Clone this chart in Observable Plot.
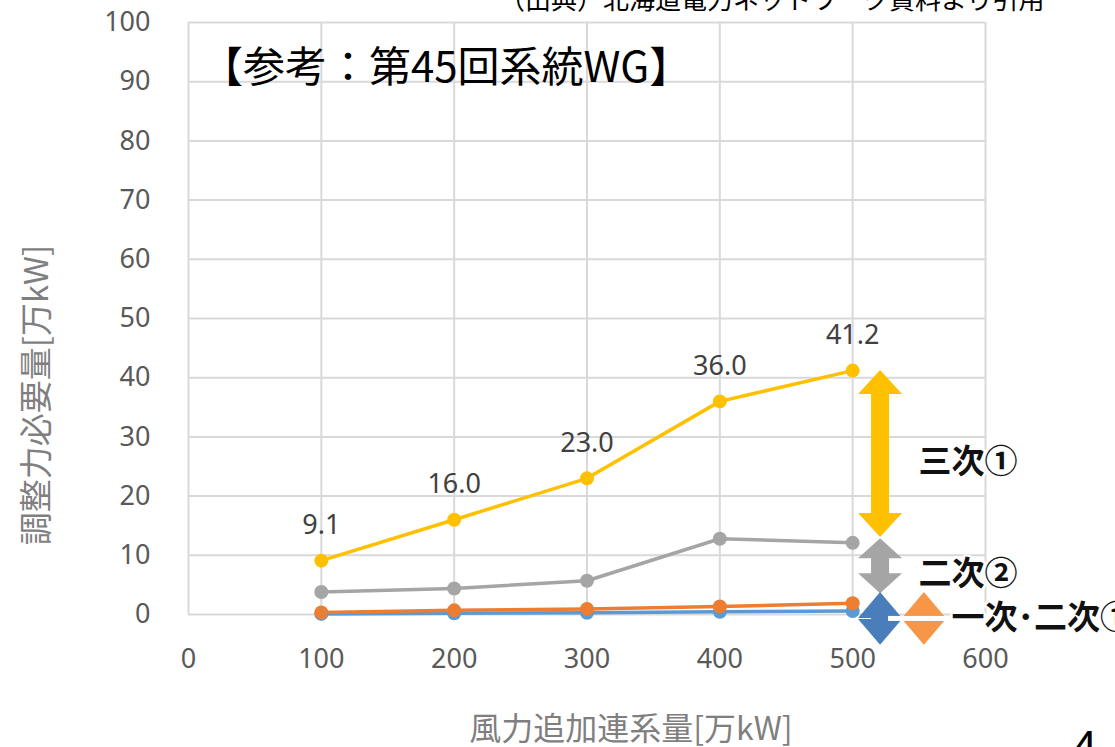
<!DOCTYPE html>
<html>
<head>
<meta charset="utf-8">
<script src="https://cdn.jsdelivr.net/npm/d3@7"></script>
<script src="https://cdn.jsdelivr.net/npm/@observablehq/plot@0.6"></script>
<style>
  html, body { margin: 0; padding: 0; background: #fff; }
  #chart svg { display: block; overflow: visible; }
</style>
</head>
<body>
<div id="chart"></div>
<script>
// ---- data ----
const windCapacity = [100, 200, 300, 400, 500];          // 風力追加連系量[万kW]
const tertiary1   = [9.1, 16.0, 23.0, 36.0, 41.2];       // 三次① (yellow)
const secondary2  = [3.8, 4.4, 5.7, 12.8, 12.1];         // 二次② (gray)
const secondary1  = [0.35, 0.7, 0.95, 1.35, 1.9];        // 二次① (orange)
const primary     = [0.1, 0.2, 0.3, 0.45, 0.6];          // 一次 (blue)
const xTicks = [0, 100, 200, 300, 400, 500, 600];
const yTicks = [0, 10, 20, 30, 40, 50, 60, 70, 80, 90, 100];

const seriesNames  = ["一次", "二次①", "二次②", "三次①"];
const seriesColors = ["#5B9BD5", "#ED7D31", "#A5A5A5", "#FFC000"];
const seriesValues = [primary, secondary1, secondary2, tertiary1];

// annotation arrows (range of each component at x = arrowX)
const arrowLabels = ["三次①", "二次②", "一次･二次①"];
const arrowFrom   = [41.2, 12.8, 3.7];
const arrowTo     = [13.0, 3.5, -5.2];
const arrowX      = [521, 521, 521];
const arrowColors = ["#FFC000", "#A5A5A5", "#4A7EBB"];
const extraArrowX = 554;           // second diamond (orange) for 一次･二次①
const extraArrowColor = "#F79646";

const titleText  = "【参考：第45回系統WG】";
const sourceText = "（出典）北海道電力ネットワーク資料より引用";
const xLabel = "風力追加連系量[万kW]";
const yLabel = "調整力必要量[万kW]";
const pageNo = "4";

// ---- tables ----
const rows = seriesNames.flatMap((name, i) =>
  windCapacity.map((x, j) => ({series: name, x, value: seriesValues[i][j], color: seriesColors[i]})));
const arrows = arrowLabels.map((label, i) => ({label, x: arrowX[i], from: arrowFrom[i], to: arrowTo[i], color: arrowColors[i]}));
const arrowShapes = [...arrows, {label: "", x: extraArrowX, from: arrowFrom[2], to: arrowTo[2], color: extraArrowColor}];

const JP = "'Noto Sans CJK JP', 'Noto Sans', sans-serif";

function arrowMark(index, scales) {
  const g = d3.create("svg:g");
  const hw = 22, sw = 9;
  const headLens = [24, 20, 26, 26];
  const a3 = arrows[2];
  const yc = (scales.y(a3.from) + scales.y(a3.to)) / 2;
  arrowShapes.forEach((a, i) => {
    const cx = scales.x(a.x), y1 = scales.y(a.from), y2 = scales.y(a.to);
    const hl = Math.min(headLens[i], (y2 - y1) / 2 - 0.5);
    const pts = [[cx, y1], [cx + hw, y1 + hl], [cx + sw, y1 + hl], [cx + sw, y2 - hl], [cx + hw, y2 - hl],
                 [cx, y2], [cx - hw, y2 - hl], [cx - sw, y2 - hl], [cx - sw, y1 + hl], [cx - hw, y1 + hl]];
    g.append("polygon").attr("points", pts.map(p => p.join(",")).join(" ")).attr("fill", a.color);
  });
  // white connector line across the diamonds
  g.append("rect")
    .attr("x", scales.x(a3.x) + 8).attr("y", yc - 2.5)
    .attr("width", scales.x(extraArrowX) + 30 - scales.x(a3.x) - 8).attr("height", 5)
    .attr("fill", "#fff");
  return g.node();
}

const marks = [
  Plot.ruleX(xTicks, {stroke: "#d9d9d9", strokeWidth: 2}),
  Plot.ruleY(yTicks, {stroke: "#d9d9d9", strokeWidth: 2}),
];
for (const name of seriesNames) {
  const data = rows.filter(d => d.series === name);
  marks.push(Plot.line(data, {x: "x", y: "value", stroke: d => d.color, strokeWidth: 3.5}));
  marks.push(Plot.dot(data, {x: "x", y: "value", r: 7, fill: d => d.color}));
}
marks.push(Plot.text(rows.filter(d => d.series === "三次①"), {
  x: "x", y: "value", text: d => d.value.toFixed(1), dy: -35,
  fill: "#404040", fontSize: 27, fontFamily: "'Noto Sans', sans-serif"
}));
marks.push(arrowMark);
marks.push(Plot.text(arrows.slice(0, 2), {
  x: "x", y: d => (d.from + d.to) / 2, text: "label",
  dx: 38, dy: 8, textAnchor: "start", fontSize: 33, fontWeight: "bold", fill: "#111",
  stroke: "#fff", strokeWidth: 5, fontFamily: JP, paintOrder: "stroke"
}));
marks.push(Plot.text(arrows.slice(2), {
  x: () => extraArrowX, y: d => (d.from + d.to) / 2, text: "label",
  dx: 27, dy: -1, textAnchor: "start", fontSize: 33, fontWeight: "bold", fill: "#111",
  stroke: "#fff", strokeWidth: 5, fontFamily: JP, paintOrder: "stroke"
}));

const svg = Plot.plot({
  width: 1115, height: 747,
  marginLeft: 188, marginRight: 130, marginTop: 22, marginBottom: 133,
  style: {fontFamily: "'Noto Sans', sans-serif", fontSize: "27px", color: "#595959", background: "#fff", overflow: "visible"},
  x: {domain: [0, 600], ticks: xTicks, tickSize: 0, tickPadding: 34, label: null},
  y: {domain: [0, 100], ticks: yTicks, tickSize: 0, tickPadding: 38, label: null},
  marks
});

const s = d3.select(svg);
function addText(t) {
  return s.append("text").text(t).attr("text-anchor", "start").attr("font-family", JP);
}
addText(sourceText).attr("x", 499).attr("y", 9).attr("font-size", 26).attr("fill", "#000");
addText(titleText).attr("x", 201).attr("y", 82).attr("font-size", 42).attr("fill", "#000");
addText(yLabel).attr("transform", "translate(48,395) rotate(-90)").attr("text-anchor", "middle")
  .attr("font-size", 33).attr("fill", "#7f7f7f");
addText(xLabel).attr("x", 631).attr("y", 740).attr("text-anchor", "middle")
  .attr("font-size", 32).attr("fill", "#7f7f7f");
addText(pageNo).attr("x", 1071).attr("y", 764).attr("font-size", 46).attr("fill", "#000")
  .attr("font-family", "'Noto Sans', sans-serif");

document.getElementById("chart").append(svg);
</script>
</body>
</html>
